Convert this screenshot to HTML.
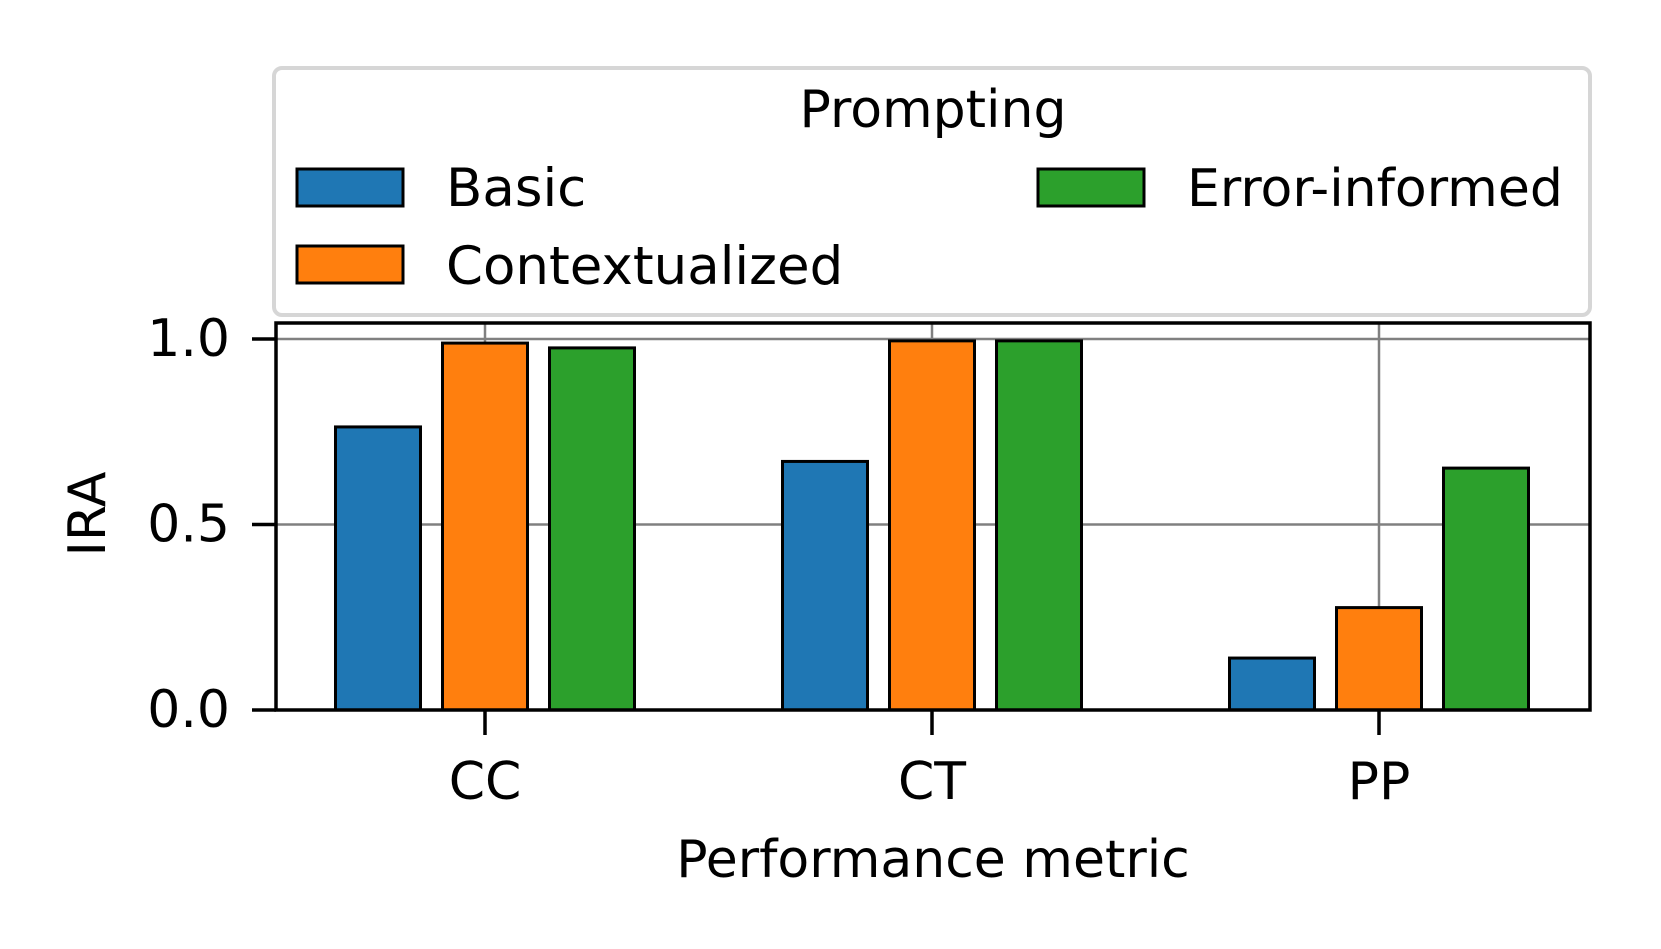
<!DOCTYPE html>
<html><head><meta charset="utf-8"><style>
html,body{margin:0;padding:0;background:#fff;}
svg{display:block;font-family:"DejaVu Sans","Liberation Sans",sans-serif;}
</style></head><body>
<svg id="chart" width="1661" height="949" viewBox="0 0 1661 949" xmlns="http://www.w3.org/2000/svg">
<g id="grid"></g>
<g id="bars"></g>
<rect x="276" y="323" width="1314" height="387" fill="none" stroke="#000" stroke-width="3.5"/>
<g id="axes"></g>
<text x="88" y="514" font-size="52" text-anchor="middle" dominant-baseline="central" transform="rotate(-90 88 514)">IRA</text>
<text x="933" y="877" font-size="52" text-anchor="middle">Performance metric</text>
<g>
<rect x="274" y="68" width="1316" height="247" rx="8" fill="#fff" stroke="#d6d6d6" stroke-width="4"/>
<text x="933" y="127" font-size="52" text-anchor="middle">Prompting</text>
<rect x="297" y="169" width="106" height="37" fill="#1f77b4" stroke="#000" stroke-width="3"/>
<text x="446" y="206" font-size="53">Basic</text>
<rect x="297" y="246" width="106" height="37" fill="#ff7f0e" stroke="#000" stroke-width="3"/>
<text x="446" y="284" font-size="53">Contextualized</text>
<rect x="1038" y="169" width="106" height="37" fill="#2ca02c" stroke="#000" stroke-width="3"/>
<text x="1187" y="206" font-size="52">Error-informed</text>
</g>
</svg>
<script>
const categories = ["CC", "CT", "PP"];
const seriesNames = ["Basic", "Contextualized", "Error-informed"];
const basicValues = [0.763, 0.67, 0.14];
const contextualizedValues = [0.989, 0.995, 0.276];
const errorInformedValues = [0.976, 0.995, 0.652];
const yTicks = [0.0, 0.5, 1.0];
const yTickLabels = ["0.0", "0.5", "1.0"];
const colors = ["#1f77b4", "#ff7f0e", "#2ca02c"];
const series = [basicValues, contextualizedValues, errorInformedValues];
const NS = "http://www.w3.org/2000/svg";
const y = v => 710 - v * 371;
const xc = i => 485 + i * 447;
const barW = 85, step = 107;
function mk(tag, attrs, parent){const e=document.createElementNS(NS,tag);for(const k in attrs)e.setAttribute(k,attrs[k]);parent.appendChild(e);return e;}
const grid=document.getElementById('grid'), bars=document.getElementById('bars'), axes=document.getElementById('axes');
yTicks.forEach((t,i)=>{
  const g=mk('line',{x1:276,x2:1590,y1:y(t),y2:y(t),stroke:'#808080','stroke-width':2.5},grid);
  
  
  const tk=mk('line',{x1:252,x2:276,y1:y(t),y2:y(t),stroke:'#000','stroke-width':3.5},axes);
  
  
  const tl=mk('text',{x:230,y:y(t),'font-size':52,'text-anchor':'end','dominant-baseline':'central'},axes);
  tl.textContent=yTickLabels[i];
  
  
});
categories.forEach((c,i)=>{
  const g=mk('line',{x1:xc(i),x2:xc(i),y1:323,y2:710,stroke:'#808080','stroke-width':2.5},grid);
  
  
  const tk=mk('line',{x1:xc(i),x2:xc(i),y1:710,y2:735,stroke:'#000','stroke-width':3.5},axes);
  
  
  const tl=mk('text',{x:xc(i),y:782,'font-size':52,'text-anchor':'middle','dominant-baseline':'central'},axes);
  tl.textContent=c;
  
  
  series.forEach((s,j)=>{
    const cx=xc(i)+(j-1)*step;
    const r=mk('rect',{x:cx-barW/2,y:y(s[i]),width:barW,height:710-y(s[i]),fill:colors[j],stroke:'#000','stroke-width':3},bars);
    
    
  });
});
</script>
</body></html>
